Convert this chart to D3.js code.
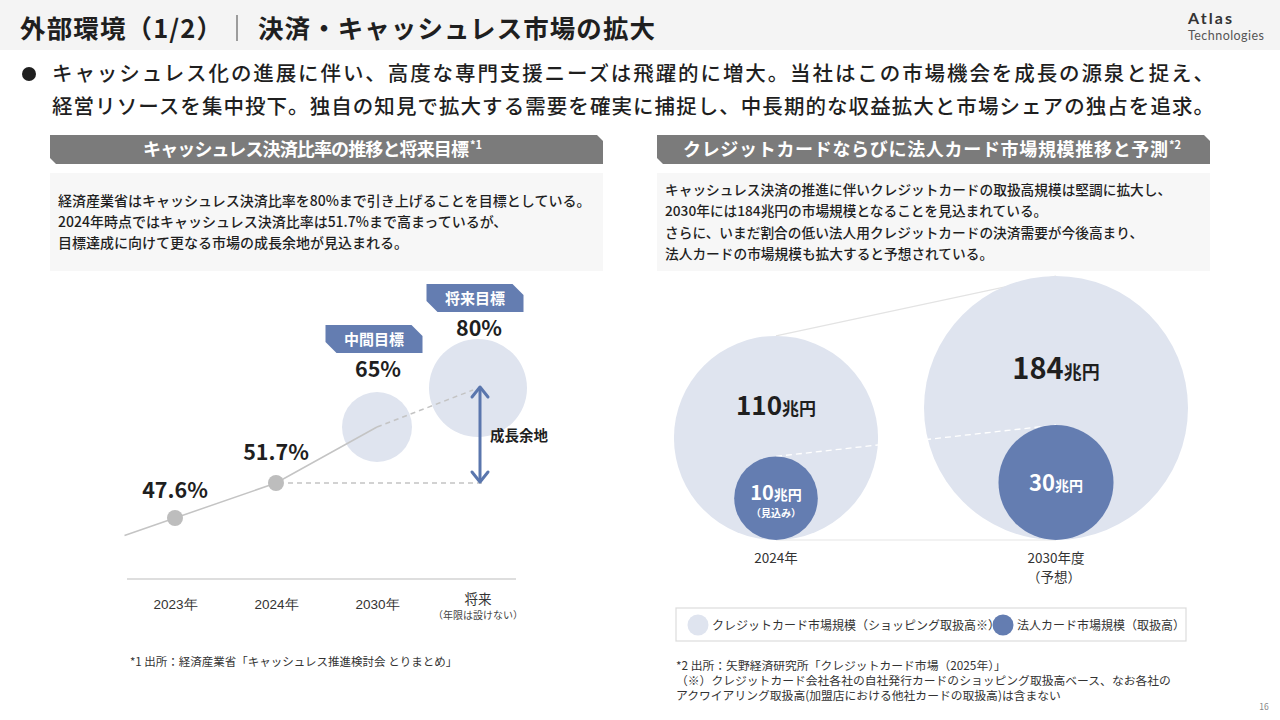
<!DOCTYPE html>
<html lang="ja">
<head>
<meta charset="utf-8">
<script src="https://cdn.jsdelivr.net/npm/d3@7"></script>
<style>
  html, body { margin: 0; padding: 0; background: #fff; }
  svg { display: block; font-family: "Noto Sans CJK JP", "Noto Sans", sans-serif; }
</style>
</head>
<body>
<svg id="chart" width="1280" height="720"></svg>
<script>
// キャッシュレス決済比率
var rateCats = ["2023年", "2024年", "2030年", "将来"];
var rateVals = [47.6, 51.7, 65, 80];
var rateTags = [null, null, "中間目標", "将来目標"];

// クレジットカード / 法人カード市場規模（兆円）
var marketCats = ["2024年", "2030年度"];
var marketSubs = ["", "（予想）"];
var creditVals = [110, 184];
var corpVals = [10, 30];
var corpNotes = ["（見込み）", ""];

var legendLabels = ["クレジットカード市場規模（ショッピング取扱高※）", "法人カード市場規模（取扱高）"];

var bulletLines = [
  "キャッシュレス化の進展に伴い、高度な専門支援ニーズは飛躍的に増大。当社はこの市場機会を成長の源泉と捉え、",
  "経営リソースを集中投下。独自の知見で拡大する需要を確実に捕捉し、中長期的な収益拡大と市場シェアの独占を追求。"
];
var leftDesc = [
  "経済産業省はキャッシュレス決済比率を80%まで引き上げることを目標としている。",
  "2024年時点ではキャッシュレス決済比率は51.7%まで高まっているが、",
  "目標達成に向けて更なる市場の成長余地が見込まれる。"
];
var rightDesc = [
  "キャッシュレス決済の推進に伴いクレジットカードの取扱高規模は堅調に拡大し、",
  "2030年には184兆円の市場規模となることを見込まれている。",
  "さらに、いまだ割合の低い法人用クレジットカードの決済需要が今後高まり、",
  "法人カードの市場規模も拡大すると予想されている。"
];
var rightNotes = [
  "*2 出所：矢野経済研究所「クレジットカード市場（2025年）」",
  "（※）クレジットカード会社各社の自社発行カードのショッピング取扱高ベース、なお各社の",
  "アクワイアリング取扱高(加盟店における他社カードの取扱高)は含まない"
];

var BLUE = "#647db1", LIGHT = "#dfe4ef", INK = "#1f1f1f";

var svg = d3.select("#chart");

// ---- header
svg.append("rect").attr("x", 0).attr("y", 0).attr("width", 1280).attr("height", 50).attr("fill", "#f4f4f4");
svg.append("text").attr("x", 20).attr("y", 38).attr("font-size", 25.5).attr("font-weight", 700).attr("fill", INK)
  .attr("textLength", 202).attr("lengthAdjust", "spacing")
  .text("外部環境（1/2）");
svg.append("line").attr("x1", 237).attr("x2", 237).attr("y1", 15).attr("y2", 41).attr("stroke", "#444").attr("stroke-width", 1);
svg.append("text").attr("x", 258).attr("y", 38).attr("font-size", 25.5).attr("font-weight", 700).attr("fill", INK)
  .attr("textLength", 397).attr("lengthAdjust", "spacing")
  .text("決済・キャッシュレス市場の拡大");
svg.append("text").attr("x", 1188).attr("y", 24).attr("font-size", 16).attr("font-weight", 700).attr("fill", "#333")
  .attr("font-family", "Lato, sans-serif").attr("textLength", 44).text("Atlas");
svg.append("text").attr("x", 1188).attr("y", 40).attr("font-size", 12.5).attr("font-weight", 400).attr("fill", "#555")
  .attr("font-family", "Lato, sans-serif").attr("textLength", 76).text("Technologies");

svg.append("circle").attr("cx", 29).attr("cy", 74).attr("r", 7).attr("fill", INK);
svg.selectAll(".bullet").data(bulletLines).enter().append("text")
  .attr("class", "bullet")
  .attr("x", 52).attr("y", function(d, i){ return 81 + i * 33; })
  .attr("font-size", 20.5).attr("font-weight", 500).attr("fill", INK)
  .attr("textLength", 1162).attr("lengthAdjust", "spacing")
  .text(function(d){ return d; });

// ---- panel headers + description boxes
function panelHead(x, w, label, sup, tx, tlen){
  var c = 6, y = 135, h = 29;
  svg.append("path")
    .attr("d", "M" + x + "," + y + "H" + (x + w - c) + "L" + (x + w) + "," + (y + c) + "V" + (y + h) +
      "H" + (x + c) + "L" + x + "," + (y + h - c) + "Z")
    .attr("fill", "#7b7b7b");
  svg.append("text").attr("x", tx).attr("y", y + 21)
    .attr("font-size", 18).attr("font-weight", 700).attr("fill", "#fff")
    .attr("textLength", tlen).attr("lengthAdjust", "spacing").text(label);
  svg.append("text").attr("x", tx + tlen + 1).attr("y", y + 14)
    .attr("font-size", 11).attr("font-weight", 700).attr("fill", "#fff").text(sup);
}
panelHead(50, 553, "キャッシュレス決済比率の推移と将来目標", "*1", 143, 326);
panelHead(657, 553, "クレジットカードならびに法人カード市場規模推移と予測", "*2", 683, 485);

svg.append("rect").attr("x", 50).attr("y", 173).attr("width", 553).attr("height", 98).attr("fill", "#f7f7f7");
svg.append("rect").attr("x", 657).attr("y", 173).attr("width", 553).attr("height", 98).attr("fill", "#f7f7f7");

svg.selectAll(".ldesc").data(leftDesc).enter().append("text")
  .attr("class", "ldesc").attr("x", 58).attr("y", function(d, i){ return 206 + i * 21; })
  .attr("font-size", 14).attr("font-weight", 500).attr("fill", INK).text(function(d){ return d; });
svg.selectAll(".rdesc").data(rightDesc).enter().append("text")
  .attr("class", "rdesc").attr("x", 665).attr("y", function(d, i){ return 195 + i * 21.3; })
  .attr("font-size", 13.7).attr("font-weight", 500).attr("fill", INK).text(function(d){ return d; });

// ---- left chart: rate trend
var x = d3.scalePoint().domain(rateCats).range([175, 478]);
// schematic vertical placement (not to scale in the original slide)
var y = d3.scaleLinear().domain([47.6, 51.7, 65, 80]).range([518, 483, 427, 388]);
var rBub = d3.scaleLinear().domain([65, 80]).range([35, 49]);

var left = svg.append("g");

// axis baseline + category labels
var xAxis = d3.axisBottom(x).tickSize(0).tickPadding(20).tickFormat(function(d){ return d === "将来" ? "" : d; });
var ax = left.append("g").attr("transform", "translate(0,579)").call(xAxis);
ax.select(".domain").attr("d", "M127,0H516").attr("stroke", "#bdbdbd").attr("stroke-width", 1.2);
ax.selectAll(".tick text").attr("font-size", 13.5).attr("fill", "#333").attr("font-family", "inherit");
left.append("text").attr("x", x("将来")).attr("y", 604).attr("text-anchor", "middle")
  .attr("font-size", 13.5).attr("fill", "#333").text("将来");
left.append("text").attr("x", x("将来")).attr("y", 619).attr("text-anchor", "middle")
  .attr("font-size", 10).attr("fill", "#444").text("（年限は設けない）");

var pts = rateCats.map(function(c, i){ return { cat: c, v: rateVals[i], tag: rateTags[i], x: x(c), y: y(rateVals[i]) }; });
var actual = pts.filter(function(d){ return !d.tag; });
var target = pts.filter(function(d){ return d.tag; });

// target bubbles
left.selectAll(".bub").data(target).enter().append("circle")
  .attr("class", "bub").attr("cx", function(d){ return d.x; }).attr("cy", function(d){ return d.y; })
  .attr("r", function(d){ return rBub(d.v); }).attr("fill", LIGHT);

// trend line: extrapolated lead-in, actuals, up to mid target (solid), then dashed to future target
var step = x.step();
var lead = { x: pts[0].x - step * 0.5, y: y(pts[0].v - (pts[1].v - pts[0].v) * 0.5) };
var line = d3.line().x(function(d){ return d.x; }).y(function(d){ return d.y; });
left.append("path").attr("d", line([lead, pts[0], pts[1], pts[2]]))
  .attr("fill", "none").attr("stroke", "#c4c4c4").attr("stroke-width", 1.5);
left.append("path").attr("d", line([pts[2], { x: pts[3].x - 5, y: pts[3].y + 2 }]))
  .attr("fill", "none").attr("stroke", "#c4c4c4").attr("stroke-width", 1.5).attr("stroke-dasharray", "5,4");
left.append("line").attr("x1", pts[1].x + 12).attr("x2", pts[3].x + 7)
  .attr("y1", pts[1].y).attr("y2", pts[1].y)
  .attr("stroke", "#c4c4c4").attr("stroke-width", 1.5).attr("stroke-dasharray", "5,4");

left.selectAll(".pt").data(actual).enter().append("circle")
  .attr("class", "pt").attr("cx", function(d){ return d.x; }).attr("cy", function(d){ return d.y; })
  .attr("r", 8).attr("fill", "#bdbdbd");

// value labels
left.selectAll(".plab").data(actual).enter().append("text")
  .attr("class", "plab").attr("x", function(d){ return d.x; }).attr("y", function(d, i){ return d.y - (i ? 23 : 20); })
  .attr("text-anchor", "middle").attr("font-size", 21.5).attr("font-weight", 700).attr("fill", INK)
  .text(function(d){ return d.v + "%"; });

var tagGap = [0, 0, 44, 32];
var tagW = 97, tagH = 28, cut = 11;
target.forEach(function(d){
  var i = rateCats.indexOf(d.cat);
  var top = d.y - rBub(d.v);
  left.append("text").attr("x", d.x + 1).attr("y", top - tagGap[i] + 29)
    .attr("text-anchor", "middle").attr("font-size", 21.5).attr("font-weight", 700).attr("fill", INK)
    .text(d.v + "%");
  var tx = d.x - 3 - tagW / 2, ty = top - tagGap[i] - 23;
  left.append("path")
    .attr("d", "M" + tx + "," + ty + "H" + (tx + tagW - cut) + "L" + (tx + tagW) + "," + (ty + cut) + "V" + (ty + tagH) +
      "H" + (tx + cut) + "L" + tx + "," + (ty + tagH - cut) + "Z")
    .attr("fill", BLUE);
  left.append("text").attr("x", tx + tagW / 2).attr("y", ty + 20).attr("text-anchor", "middle")
    .attr("font-size", 15).attr("font-weight", 700).attr("fill", "#fff").text(d.tag);
});

// growth-room arrow
var ax0 = pts[3].x + 2, ay0 = pts[3].y - 1, ay1 = pts[1].y - 1;
left.append("line").attr("x1", ax0).attr("x2", ax0).attr("y1", ay0 + 2).attr("y2", ay1 - 2)
  .attr("stroke", "#5a76ad").attr("stroke-width", 3);
left.append("path").attr("d", "M" + (ax0 - 8) + "," + (ay0 + 10) + "L" + ax0 + "," + ay0 + "L" + (ax0 + 8) + "," + (ay0 + 10))
  .attr("fill", "none").attr("stroke", "#5a76ad").attr("stroke-width", 3).attr("stroke-linejoin", "round").attr("stroke-linecap", "round");
left.append("path").attr("d", "M" + (ax0 - 8) + "," + (ay1 - 10) + "L" + ax0 + "," + ay1 + "L" + (ax0 + 8) + "," + (ay1 - 10))
  .attr("fill", "none").attr("stroke", "#5a76ad").attr("stroke-width", 3).attr("stroke-linejoin", "round").attr("stroke-linecap", "round");
left.append("text").attr("x", ax0 + 10).attr("y", (ay0 + ay1) / 2 + 6)
  .attr("font-size", 14.5).attr("font-weight", 700).attr("fill", INK).text("成長余地");

left.append("text").attr("x", 130).attr("y", 666).attr("font-size", 11.5).attr("fill", "#333")
  .text("*1 出所：経済産業省「キャッシュレス推進検討会 とりまとめ」");

// ---- right chart: market size bubbles
var mx = d3.scalePoint().domain(marketCats).range([776, 1056]);
var rCredit = d3.scaleSqrt().domain([0, 184]).range([0, 132]);
var rCorp = d3.scalePow().exponent(0.29).domain([0, 30]).range([0, 57.5]);
var base = 540;

var mk = marketCats.map(function(c, i){
  return { cat: c, sub: marketSubs[i], credit: creditVals[i], corp: corpVals[i], note: corpNotes[i],
    x: mx(c), R: rCredit(creditVals[i]), r: rCorp(corpVals[i]) };
});

var right = svg.append("g");
right.append("line").attr("x1", mk[0].x).attr("y1", base - 2 * mk[0].R).attr("x2", mk[1].x).attr("y2", base - 2 * mk[1].R)
  .attr("stroke", "#e3e3e3").attr("stroke-width", 1.2);
right.append("line").attr("x1", mk[0].x).attr("y1", base).attr("x2", mk[1].x).attr("y2", base)
  .attr("stroke", "#e6e6e6").attr("stroke-width", 1.2);

right.selectAll(".big").data(mk).enter().append("circle")
  .attr("class", "big").attr("cx", function(d){ return d.x; }).attr("cy", function(d){ return base - d.R; })
  .attr("r", function(d){ return d.R; }).attr("fill", LIGHT);

right.append("line").attr("x1", mk[0].x).attr("y1", base - 2 * mk[0].r).attr("x2", mk[1].x).attr("y2", base - 2 * mk[1].r)
  .attr("stroke", "#fff").attr("stroke-width", 1.3).attr("stroke-dasharray", "6,4");

right.selectAll(".small").data(mk).enter().append("circle")
  .attr("class", "small").attr("cx", function(d){ return d.x; }).attr("cy", function(d){ return base - d.r; })
  .attr("r", function(d){ return d.r; }).attr("fill", BLUE);

mk.forEach(function(d, i){
  var t = right.append("text").attr("x", d.x).attr("y", base - d.R - d.R * 0.22).attr("text-anchor", "middle")
    .attr("font-weight", 700).attr("fill", INK);
  t.append("tspan").attr("font-size", i ? 29 : 26).text(d.credit);
  t.append("tspan").attr("font-size", i ? 18 : 17).text("兆円");

  var cy = base - d.r;
  var s = right.append("text").attr("x", d.x).attr("y", cy + (d.note ? 2 : 8)).attr("text-anchor", "middle")
    .attr("font-weight", 700).attr("fill", "#fff");
  s.append("tspan").attr("font-size", i ? 22 : 20).text(d.corp);
  s.append("tspan").attr("font-size", 14).text("兆円");
  if (d.note) {
    right.append("text").attr("x", d.x).attr("y", cy + 19).attr("text-anchor", "middle")
      .attr("font-size", 10).attr("font-weight", 700).attr("fill", "#fff").text(d.note);
  }
  right.append("text").attr("x", d.x).attr("y", base + 23).attr("text-anchor", "middle")
    .attr("font-size", 13.5).attr("fill", "#333").text(d.cat);
  if (d.sub) {
    right.append("text").attr("x", d.x - 2).attr("y", base + 42).attr("text-anchor", "middle")
      .attr("font-size", 13.5).attr("fill", "#333").text(d.sub);
  }
});

// legend
var lg = svg.append("g");
lg.append("rect").attr("x", 676).attr("y", 608).attr("width", 510).attr("height", 33)
  .attr("fill", "#fff").attr("stroke", "#dcdcdc").attr("stroke-width", 1.2);
var lgX = [698, 1003], lgFill = [LIGHT, BLUE];
legendLabels.forEach(function(l, i){
  lg.append("circle").attr("cx", lgX[i]).attr("cy", 625).attr("r", 10.5).attr("fill", lgFill[i]);
  lg.append("text").attr("x", lgX[i] + 14).attr("y", 630).attr("font-size", 12).attr("fill", "#333").text(l);
});

svg.selectAll(".rnote").data(rightNotes).enter().append("text")
  .attr("class", "rnote").attr("x", 676).attr("y", function(d, i){ return 670 + i * 15; })
  .attr("font-size", 11.8).attr("fill", "#333").text(function(d){ return d; });

svg.append("text").attr("x", 1264).attr("y", 710).attr("text-anchor", "middle")
  .attr("font-size", 8.5).attr("fill", "#888").text("16");
</script>
</body>
</html>
